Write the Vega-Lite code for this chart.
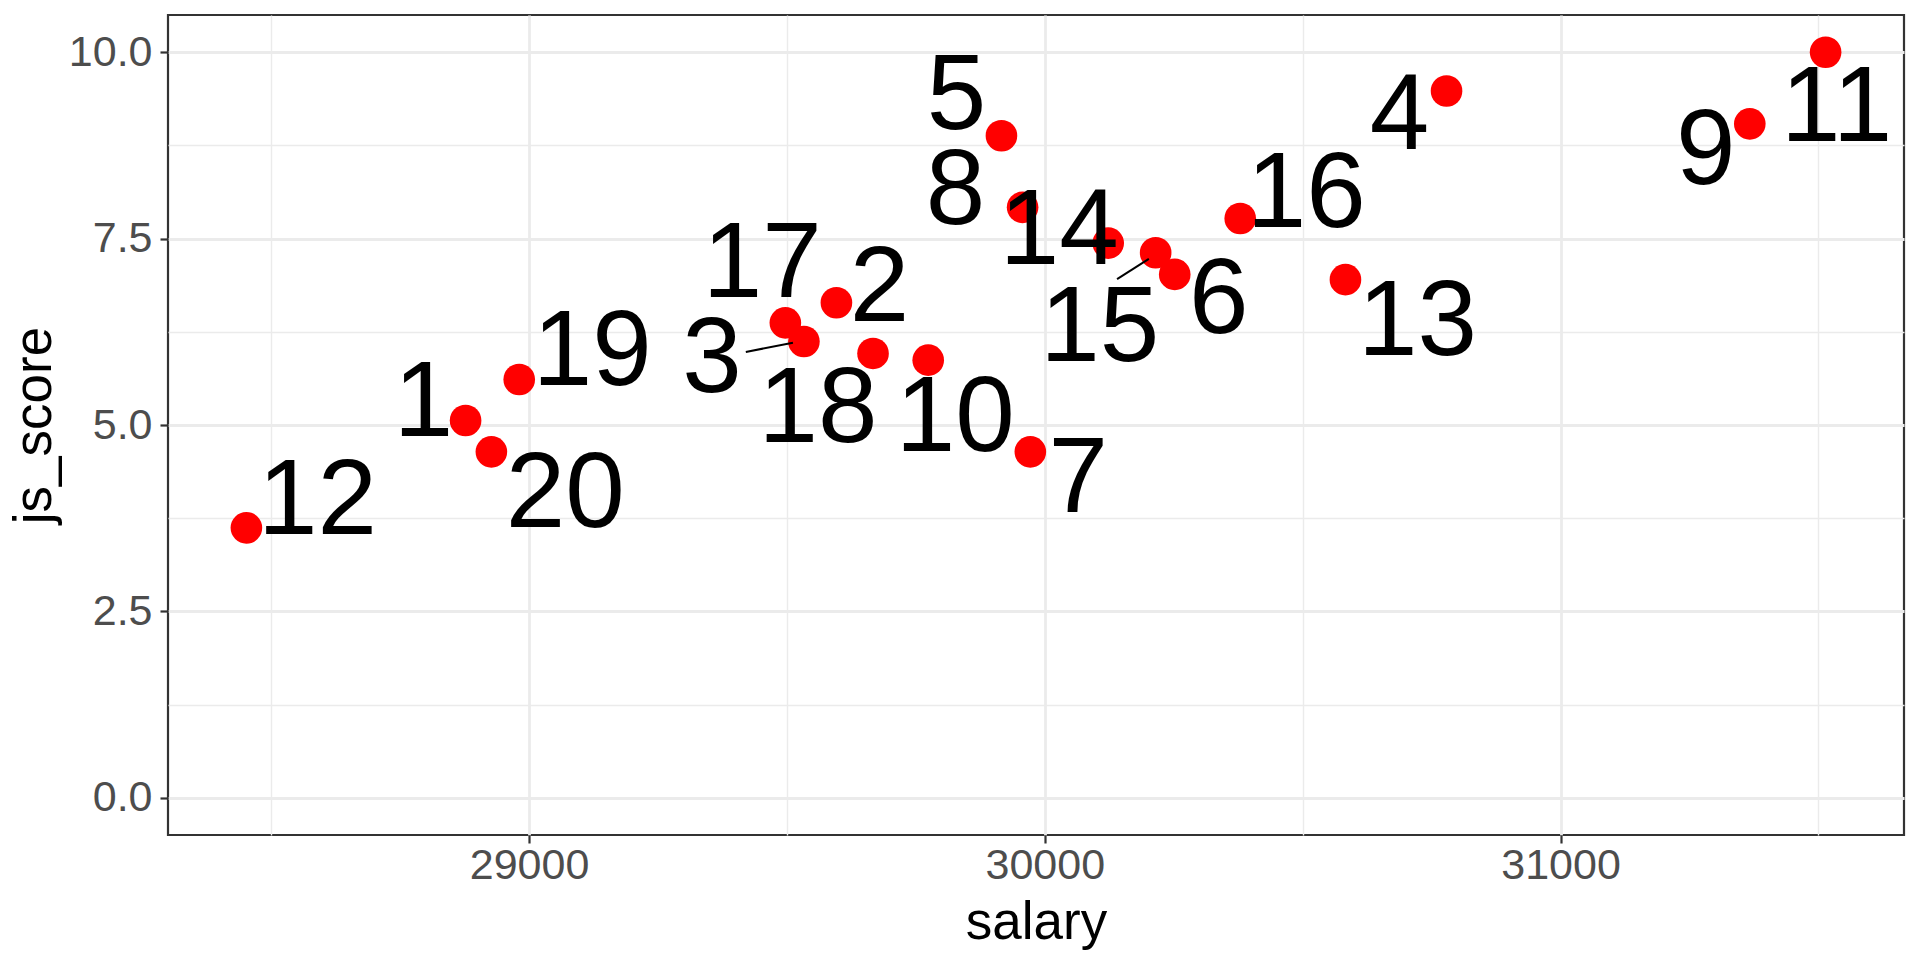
{
"$schema": "https://vega.github.io/schema/vega-lite/v6.json",
"width": 1736, "height": 820,
"autosize": {"type": "none"},
"padding": {"left": 168, "top": 15, "right": 16, "bottom": 125},
"background": "white",
"config": {
  "view": {"stroke": "#333333", "strokeWidth": 2.2},
  "text": {"font": "Liberation Sans", "fontSize": 107, "align": "center", "baseline": "alphabetic", "color": "#000000"},
  "axis": {"labelFont": "Liberation Sans", "titleFont": "Liberation Sans", "labelFontSize": 43, "titleFontSize": 53, "labelColor": "#4D4D4D", "titleColor": "#000000", "titleFontWeight": "normal", "tickColor": "#333333", "tickWidth": 2.2, "tickSize": 8, "domain": false, "gridColor": "#EBEBEB"}
},
"data": {"values": [
  {"id": 1, "salary": 28877, "js_score": 5.06},
  {"id": 2, "salary": 29596, "js_score": 6.64},
  {"id": 3, "salary": 29533, "js_score": 6.12},
  {"id": 4, "salary": 30779, "js_score": 9.48},
  {"id": 5, "salary": 29916, "js_score": 8.88},
  {"id": 6, "salary": 30252, "js_score": 7.02},
  {"id": 7, "salary": 29972, "js_score": 4.64},
  {"id": 8, "salary": 29957, "js_score": 7.92},
  {"id": 9, "salary": 31367, "js_score": 9.04},
  {"id": 10, "salary": 29774, "js_score": 5.87},
  {"id": 11, "salary": 31514, "js_score": 10.0},
  {"id": 12, "salary": 28452, "js_score": 3.62},
  {"id": 13, "salary": 30583, "js_score": 6.95},
  {"id": 14, "salary": 30123, "js_score": 7.44},
  {"id": 15, "salary": 30215, "js_score": 7.31},
  {"id": 16, "salary": 30379, "js_score": 7.77},
  {"id": 17, "salary": 29497, "js_score": 6.37},
  {"id": 18, "salary": 29667, "js_score": 5.96},
  {"id": 19, "salary": 28981, "js_score": 5.61},
  {"id": 20, "salary": 28927, "js_score": 4.64}
]},
"encoding": {
  "x": {"field": "salary", "type": "quantitative", "scale": {"domain": [28300, 31666], "nice": false, "zero": false}, "axis": null},
  "y": {"field": "js_score", "type": "quantitative", "scale": {"domain": [-0.5, 10.5], "nice": false, "zero": false}, "axis": null},
  "text": {"field": "id", "type": "nominal"}
},
"layer": [
  {"mark": {"type": "point", "opacity": 0},
   "encoding": {
    "x": {"field": "salary", "type": "quantitative", "scale": {"domain": [28300, 31666], "nice": false, "zero": false}, "axis": {"orient": "top", "values": [28500, 29500, 30500, 31500], "grid": true, "gridWidth": 1.4, "labels": false, "ticks": false, "domain": false, "title": null}},
    "y": {"field": "js_score", "type": "quantitative", "scale": {"domain": [-0.5, 10.5], "nice": false, "zero": false}, "axis": {"orient": "right", "values": [1.25, 3.75, 6.25, 8.75], "grid": true, "gridWidth": 1.4, "labels": false, "ticks": false, "domain": false, "title": null}}
   }},
  {"mark": {"type": "circle", "color": "#FF0000", "opacity": 1, "size": 1000},
   "encoding": {
    "x": {"field": "salary", "type": "quantitative", "scale": {"domain": [28300, 31666], "nice": false, "zero": false}, "axis": {"orient": "bottom", "values": [29000, 30000, 31000], "format": "d", "grid": true, "gridWidth": 2.8, "labelPadding": 1, "title": "salary", "titlePadding": 9}},
    "y": {"field": "js_score", "type": "quantitative", "scale": {"domain": [-0.5, 10.5], "nice": false, "zero": false}, "axis": {"orient": "left", "values": [0, 2.5, 5, 7.5, 10], "format": ".1f", "grid": true, "gridWidth": 2.8, "labelPadding": 8, "title": "js_score", "titlePadding": 7}}
   }},
  {"transform": [{"filter": "datum.id == 3"}], "mark": {"type": "point", "shape": "M-1,0.179L-0.189,0.021", "size": 13502, "filled": false, "color": "#000000", "strokeWidth": 2, "opacity": 1}},
  {"transform": [{"filter": "datum.id == 15"}], "mark": {"type": "point", "shape": "M-1,0.681L-0.176,0.158", "size": 5960, "filled": false, "color": "#000000", "strokeWidth": 2, "opacity": 1}},
  {"transform": [{"filter": "datum.id == 1"}], "mark": {"type": "text", "dx": -42, "dy": 15}},
  {"transform": [{"filter": "datum.id == 2"}], "mark": {"type": "text", "dx": 43, "dy": 18}},
  {"transform": [{"filter": "datum.id == 3"}], "mark": {"type": "text", "dx": -92, "dy": 50}},
  {"transform": [{"filter": "datum.id == 4"}], "mark": {"type": "text", "dx": -47, "dy": 58}},
  {"transform": [{"filter": "datum.id == 5"}], "mark": {"type": "text", "dx": -45, "dy": -7}},
  {"transform": [{"filter": "datum.id == 6"}], "mark": {"type": "text", "dx": 44, "dy": 59}},
  {"transform": [{"filter": "datum.id == 7"}], "mark": {"type": "text", "dx": 48, "dy": 60}},
  {"transform": [{"filter": "datum.id == 8"}], "mark": {"type": "text", "dx": -67, "dy": 17}},
  {"transform": [{"filter": "datum.id == 9"}], "mark": {"type": "text", "dx": -44, "dy": 60}},
  {"transform": [{"filter": "datum.id == 10"}], "mark": {"type": "text", "dx": 27, "dy": 91}},
  {"transform": [{"filter": "datum.id == 11"}], "mark": {"type": "text", "dx": 11, "dy": 89}},
  {"transform": [{"filter": "datum.id == 12"}], "mark": {"type": "text", "dx": 71, "dy": 6}},
  {"transform": [{"filter": "datum.id == 13"}], "mark": {"type": "text", "dx": 72, "dy": 75}},
  {"transform": [{"filter": "datum.id == 14"}], "mark": {"type": "text", "dx": -49, "dy": 21}},
  {"transform": [{"filter": "datum.id == 15"}], "mark": {"type": "text", "dx": -56, "dy": 108}},
  {"transform": [{"filter": "datum.id == 16"}], "mark": {"type": "text", "dx": 66, "dy": 8}},
  {"transform": [{"filter": "datum.id == 17"}], "mark": {"type": "text", "dx": -23, "dy": -26}},
  {"transform": [{"filter": "datum.id == 18"}], "mark": {"type": "text", "dx": -55, "dy": 89}},
  {"transform": [{"filter": "datum.id == 19"}], "mark": {"type": "text", "dx": 73, "dy": 5}},
  {"transform": [{"filter": "datum.id == 20"}], "mark": {"type": "text", "dx": 74, "dy": 75}}
],
"resolve": {"axis": {"x": "independent", "y": "independent"}}
}
